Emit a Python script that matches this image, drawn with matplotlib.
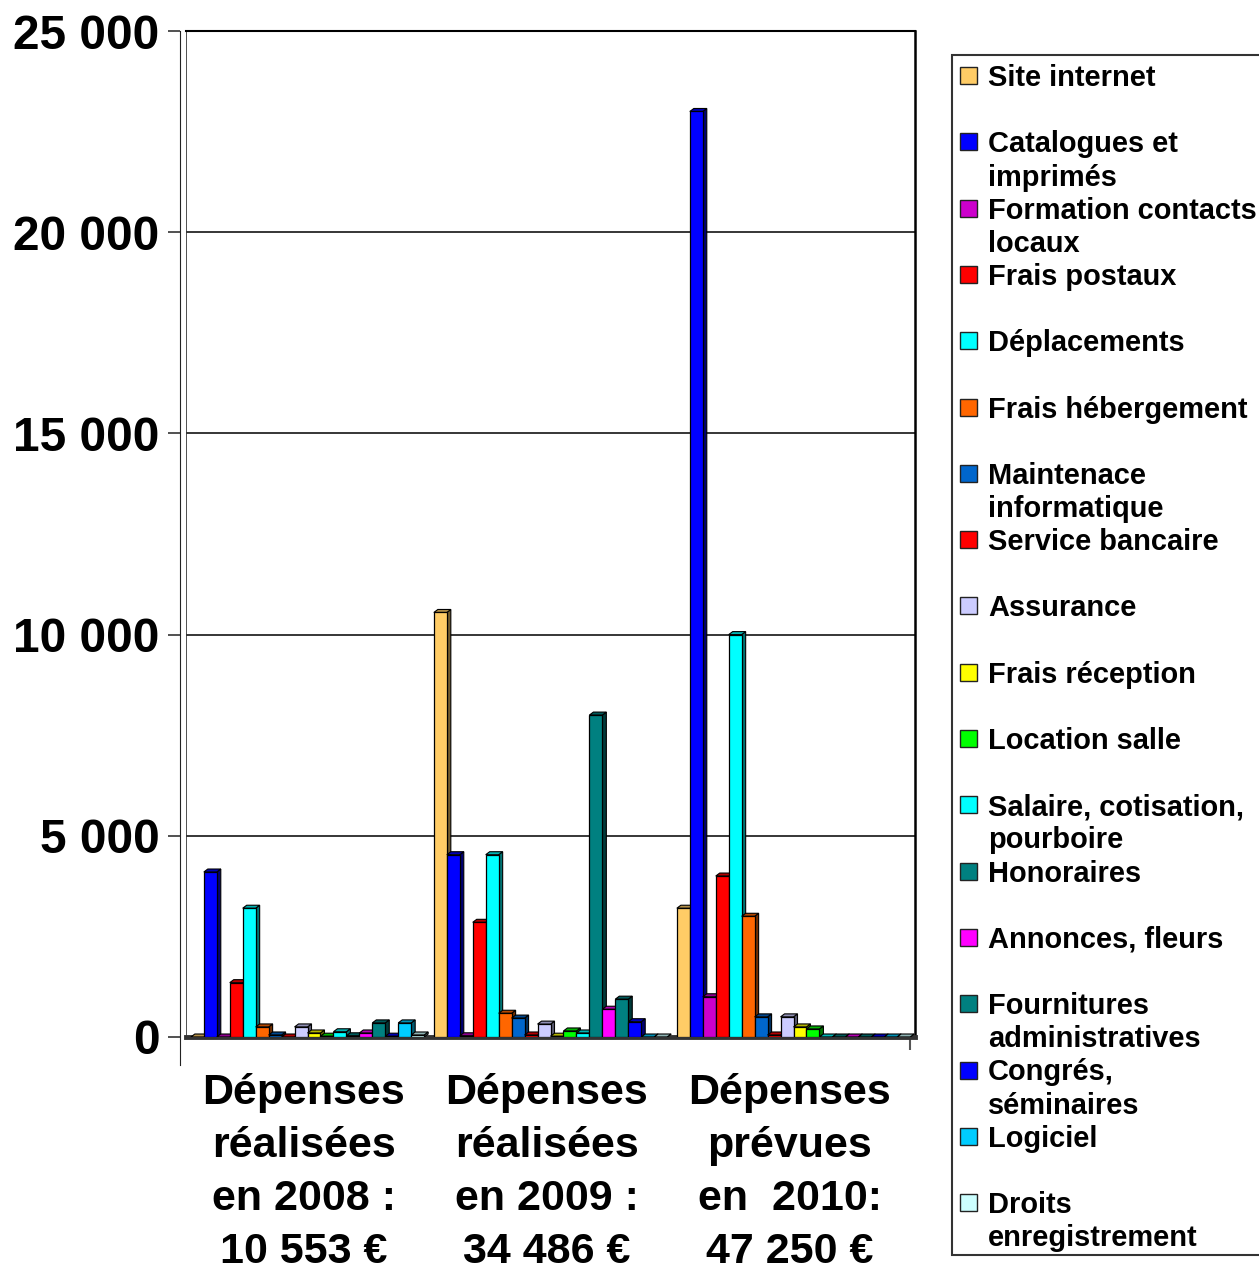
import numpy as np
import matplotlib.pyplot as plt
from matplotlib.patches import Rectangle, Polygon

plt.rcParams['font.family'] = ['Liberation Sans', 'DejaVu Sans']
plt.rcParams['font.weight'] = 'bold'

# categories (x axis)
categories = ["Dépenses\nréalisées\nen 2008 :\n10 553 €",
              "Dépenses\nréalisées\nen 2009 :\n34 486 €",
              "Dépenses\nprévues\nen  2010:\n47 250 €"]

# series names, in legend order
series = ["Site internet", "Catalogues et\nimprimés", "Formation contacts\nlocaux",
          "Frais postaux", "Déplacements", "Frais hébergement",
          "Maintenace\ninformatique", "Service bancaire", "Assurance",
          "Frais réception", "Location salle", "Salaire, cotisation,\npourboire",
          "Honoraires", "Annonces, fleurs", "Fournitures\nadministratives",
          "Congrés,\nséminaires", "Logiciel", "Droits\nenregistrement"]

colors = ["#FFCC66", "#0000FF", "#CC00CC", "#FF0000", "#00FFFF", "#FF6600",
          "#0066CC", "#FF0000", "#CCCCFF", "#FFFF00", "#00FF00", "#00FFFF",
          "#008080", "#FF00FF", "#008080", "#0000FF", "#00CCFF", "#CCFFFF"]

# values per series for each year
values_2008 = [0, 4100, 0, 1350, 3200, 250, 50, 0, 250, 100, 20, 130, 30, 100, 350, 20, 350, 50]
values_2009 = [10550, 4530, 30, 2850, 4530, 590, 470, 50, 320, 20, 150, 100, 8000, 690, 940, 380, 0, 0]
values_2010 = [3200, 23000, 1000, 4000, 10000, 3000, 500, 50, 500, 250, 200, 0, 0, 0, 0, 0, 0, 0]

yticks = [0, 5000, 10000, 15000, 20000, 25000]
ytick_labels = ["0", "5 000", "10 000", "15 000", "20 000", "25 000"]

W, H = 1259, 1270
fig = plt.figure(figsize=(W / 100, H / 100), dpi=100)
ax = fig.add_axes([186 / W, 1 - 1037 / H, (915 - 186) / W, (1037 - 31) / H])
ax.set_xlim(-0.5, 2.5)
ax.set_ylim(0, 25000)

data = np.array([values_2008, values_2009, values_2010])  # (3, 18)
n = len(series)
bw = 0.96 / n
dx = 4 / 243.0
dy = 3 * 25000 / 1006.0


def shade(c, f):
    r, g, b = plt.matplotlib.colors.to_rgb(c)
    return (r * f, g * f, b * f)


for ci in range(len(categories)):
    for si in range(n):
        h = data[ci, si]
        x0 = ci - 0.48 + si * bw
        z = 3 + si * 0.01
        side = Polygon([(x0 + bw, 0), (x0 + bw + dx, dy), (x0 + bw + dx, h + dy), (x0 + bw, h)],
                       closed=True, facecolor=shade(colors[si], 0.45), edgecolor="black", lw=0.8, zorder=z)
        top = Polygon([(x0, h), (x0 + dx, h + dy), (x0 + bw + dx, h + dy), (x0 + bw, h)],
                      closed=True, facecolor=shade(colors[si], 0.7), edgecolor="black", lw=0.8, zorder=z)
        ax.add_patch(side)
        ax.add_patch(top)
        ax.bar(x0, h, width=bw, align="edge", color=colors[si], edgecolor="black", lw=0.9, zorder=z + 0.001)

# walls / spines (spine position first: it resets the tick labels)
ax.spines["left"].set_position(("outward", 4))
ax.spines["left"].set_color("#222222")
ax.spines["left"].set_bounds(-700, 25000)
ax.axvline(-0.5, color="#333333", lw=1.2, zorder=1)
ax.spines["top"].set_linewidth(1.5)
ax.spines["right"].set_linewidth(1.8)
ax.spines["bottom"].set_linewidth(3.5)
ax.spines["bottom"].set_color("#333333")

ax.set_yticks(yticks)
ax.set_yticklabels(ytick_labels, fontsize=34.5, fontweight="bold")
ax.yaxis.grid(True, color="black", lw=1.1)
ax.set_axisbelow(True)
ax.tick_params(axis="y", length=9, width=1.2, color="#333333", pad=6)

ax.set_xticks([-0.015, 0.985, 1.985])
ax.set_xticklabels(categories, fontsize=31, fontweight="bold", linespacing=1.42)
ax.tick_params(axis="x", length=0, pad=26)
ax.set_xticks([2.48], minor=True)
ax.tick_params(axis="x", which="minor", length=9, width=1.5, color="#555555")

# legend box drawn by hand (Excel-like fixed rows)
fig.patches.append(Rectangle((952 / W, 1 - 1255 / H), 400 / W, 1200 / H, transform=fig.transFigure,
                             facecolor="white", edgecolor="#333333", lw=1.5))
row = 66.3
for i, name in enumerate(series):
    base = 86 + row * i
    fig.patches.append(Rectangle((960 / W, 1 - (base - 2) / H), 17 / W, 17 / H, transform=fig.transFigure,
                                 facecolor=colors[i], edgecolor="#222222", lw=1.0))
    for j, line in enumerate(name.split("\n")):
        fig.text(988 / W, 1 - (base + 33.2 * j) / H, line, fontsize=20.9, fontweight="bold",
                 va="baseline", ha="left")

fig.savefig("out.png", dpi=100)
